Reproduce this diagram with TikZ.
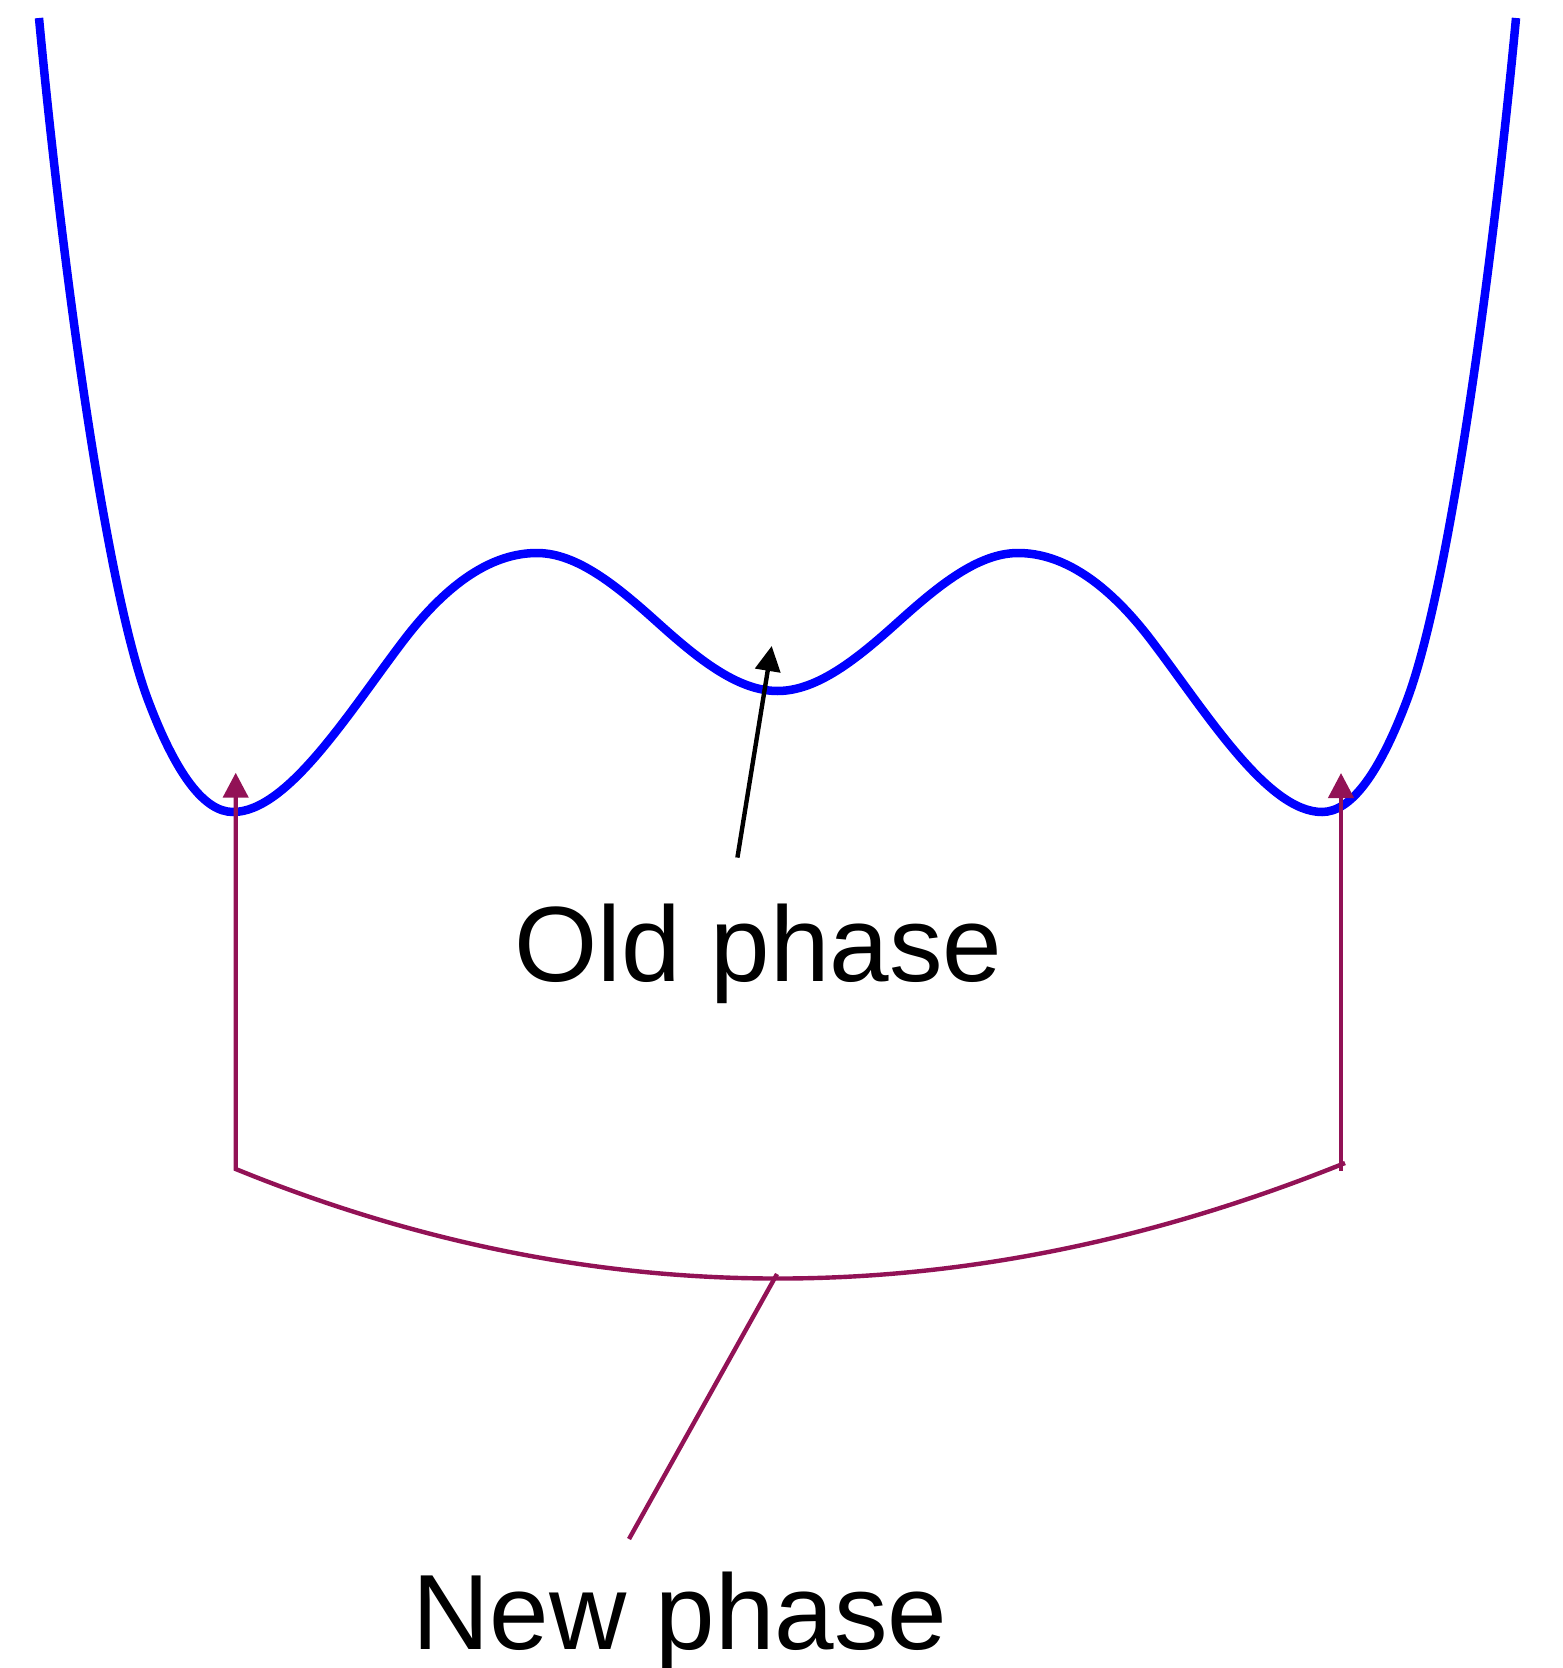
\documentclass[tikz,border=0pt]{standalone}
\usepackage{fontspec}
\setmainfont{Liberation Sans}
\usetikzlibrary{arrows.meta}
\definecolor{curveblue}{RGB}{0,0,255}
\definecolor{newpurple}{RGB}{146,18,86}
\begin{document}
\begin{tikzpicture}[x=0.5pt,y=-0.5pt,
  potential/.style={draw=curveblue,line width=4.25pt},
  headtip/.style={-{Triangle[length=12.5pt,width=12.5pt]}},
  oldpointer/.style={draw=black,line width=2.2pt,headtip},
  newline/.style={draw=newpurple,line width=2.2pt},
  phaselabel/.style={font=\fontsize{53.5pt}{60pt}\selectfont,inner sep=0pt,anchor=base}]
\clip (0,0) rectangle (1562,1668);
% potential curve
\draw[potential] (39,18) .. controls (62.4,266.9) and (105.8,587.7) .. (148,700)
 .. controls (176.1,774.7) and (204.4,812) .. (233,812)
 .. controls (288,812) and (349.4,711.6) .. (404,640)
 .. controls (448.3,582) and (492.7,553) .. (537,553)
 .. controls (577,553) and (617,586) .. (657,622)
 .. controls (697.2,658.2) and (737.3,691) .. (777.5,691)
 .. controls (817.7,691) and (857.8,658.2) .. (898,622)
 .. controls (938,586) and (978,553) .. (1018,553)
 .. controls (1062.3,553) and (1106.7,582) .. (1151,640)
 .. controls (1205.6,711.6) and (1267,812) .. (1322,812)
 .. controls (1350.6,812) and (1378.9,774.7) .. (1407,700)
 .. controls (1449.2,587.7) and (1492.6,266.9) .. (1516,18);
% labels
\node[phaselabel] (old) at (758.5,981) {Old phase};
\node[phaselabel] (new) at (680,1649) {New phase};
% old phase pointer
\coordinate (oldtail) at (737.4,857.6);
\coordinate (oldtip) at (771.7,646);
\draw[oldpointer] (oldtail) -- (oldtip);
% new phase bracket
\coordinate (ltip) at (235.7,772.7);
\coordinate (lcorner) at (235.7,1169);
\coordinate (rcorner) at (1345,1163);
\coordinate (rbase) at (1341,1171);
\coordinate (rtip) at (1341,773);
\coordinate (bottom) at (777,1274);
\coordinate (ntail) at (629,1539);
\draw[newline,headtip] (rcorner) .. controls (968.3,1315) and (598.6,1317) .. (lcorner) -- (ltip);
\draw[newline,headtip] (rbase) -- (rtip);
\draw[newline] (ntail) -- (bottom);
\end{tikzpicture}
\end{document}
